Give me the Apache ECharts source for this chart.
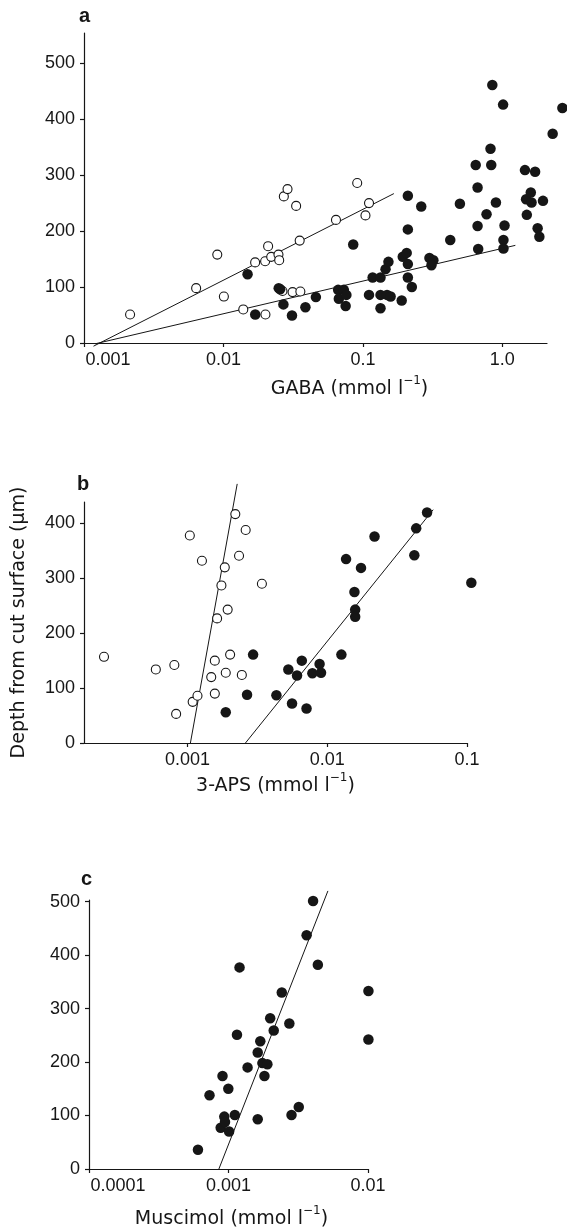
<!DOCTYPE html>
<html><head><meta charset="utf-8">
<script src="https://cdn.jsdelivr.net/npm/echarts@6/dist/echarts.min.js"></script>
<style>html,body{margin:0;padding:0;background:#fff}#chart{width:567px;height:1230px}</style>
</head><body><div id="chart"></div>
<script>
// ---- Panel a: GABA ----
const gabaOpenX = [0.00214, 0.00637, 0.00903, 0.01007, 0.01387, 0.01687, 0.0199, 0.0209, 0.0220, 0.0248, 0.0251, 0.0200, 0.0265, 0.0271, 0.0288, 0.0313, 0.0332, 0.0352, 0.0356, 0.0641, 0.0910, 0.1043, 0.1106];
const gabaOpenY = [51, 98, 158, 83, 60, 144, 146, 173, 154, 158, 148, 51, 93, 262, 275, 91, 245, 183, 92, 220, 286, 228, 250];
const gabaFilledX = [0.01489, 0.0169, 0.0249, 0.0255, 0.0269, 0.0310, 0.0387, 0.0460, 0.0664, 0.0672, 0.0730, 0.0761, 0.0752, 0.0852, 0.1106, 0.1174, 0.1337, 0.1337, 0.1337, 0.1453, 0.1489, 0.1524, 0.158, 0.1897, 0.1931, 0.206, 0.210, 0.210, 0.210, 0.210, 0.2243, 0.262, 0.300, 0.320, 0.310, 0.423, 0.496, 0.644, 0.664, 0.664, 0.671, 0.770, 0.822, 0.832, 0.847, 0.899, 1.012, 1.036, 1.018, 1.018, 1.452, 1.479, 1.497, 1.599, 1.619, 1.717, 1.790, 1.842, 1.955, 2.294, 2.694];
const gabaFilledY = [123, 51, 98, 96, 69, 49, 64, 82, 95, 79, 95, 86, 66, 176, 86, 117, 117, 86, 62, 132, 86, 145, 83, 76, 154, 161, 141, 117, 203, 263, 100, 244, 152, 148, 139, 184, 249, 318, 278, 209, 168, 230, 347, 318, 461, 251, 426, 210, 184, 169, 309, 257, 229, 269, 251, 306, 205, 190, 254, 374, 420];
const gabaOpenFitX = [0.00117, 0.1667];
const gabaOpenFitY = [-5.7, 267];
const gabaFilledFitX = [0.0012, 1.239];
const gabaFilledFitY = [-1.5, 174.5];

// ---- Panel b: 3-APS ----
const apsOpenX = [0.000253, 0.000594, 0.000806, 0.000830, 0.00104, 0.00109, 0.00118, 0.00127, 0.00148, 0.00157, 0.00157, 0.00163, 0.00175, 0.00185, 0.00188, 0.00194, 0.00202, 0.00220, 0.00234, 0.00245, 0.00261, 0.00341];
const apsOpenY = [157, 134, 142, 53, 378, 75, 86, 332, 120, 150, 90, 227, 287, 320, 128, 243, 161, 417, 341, 124, 388, 290];
const apsFilledX = [0.00188, 0.00267, 0.00295, 0.00433, 0.00527, 0.00560, 0.00608, 0.00658, 0.00711, 0.00783, 0.00882, 0.00903, 0.01263, 0.01364, 0.01566, 0.01585, 0.01585, 0.01745, 0.0218, 0.0420, 0.0433, 0.0518, 0.1074];
const apsFilledY = [56, 88, 161, 87, 134, 72, 123, 150, 63, 127, 144, 128, 161, 335, 275, 243, 230, 319, 376, 342, 391, 420, 292];
const apsOpenFitX = [0.00105, 0.00227];
const apsOpenFitY = [0, 472];
const apsFilledFitX = [0.0026, 0.0573];
const apsFilledFitY = [0, 425];

// ---- Panel c: Muscimol ----
const muscX = [0.000604, 0.000731, 0.000879, 0.000906, 0.000933, 0.000944, 0.000997, 0.00101, 0.00111, 0.00115, 0.00120, 0.00137, 0.00162, 0.00162, 0.00169, 0.00175, 0.00181, 0.00190, 0.00199, 0.00211, 0.00241, 0.00273, 0.00283, 0.00319, 0.00363, 0.00404, 0.00437, 0.01007, 0.01007];
const muscY = [36, 138, 77, 174, 98, 88, 150, 70, 101, 251, 377, 190, 93, 218, 239, 198, 174, 196, 282, 259, 330, 272, 101, 116, 437, 501, 382, 333, 242];
const muscFitX = [0.000853, 0.00516];
const muscFitY = [0, 520];

// ---- Tick labels ----
const aXTicks = [0.001, 0.01, 0.1, 1];
const aXLabels = ['0.001', '0.01', '0.1', '1.0'];
const bXTicks = [0.001, 0.01, 0.1];
const bXLabels = ['0.001', '0.01', '0.1'];
const cXTicks = [0.0001, 0.001, 0.01];
const cXLabels = ['0.0001', '0.001', '0.01'];
const aYTicks = [0, 100, 200, 300, 400, 500];
const bYTicks = [0, 100, 200, 300, 400];
const cYTicks = [0, 100, 200, 300, 400, 500];

const panelLetters = ['a', 'b', 'c'];
const xTitles = ['GABA (mmol l', '3-APS (mmol l', 'Muscimol (mmol l'];
const yTitleB = 'Depth from cut surface (μm)';

const INK = '#161616';
const TICKFONT = 'Liberation Sans';
const TITLEFONT = 'DejaVu Sans';

function pairs(xs, ys) { return xs.map((x, i) => [x, ys[i]]); }
function s0w(s) { return Math.round(s.length * 9.6); }

function xAxis(gi, min, max, ticks, labels, title, gap, padLeft, leftFirst) {
  return {
    type: 'log', logBase: 10, gridIndex: gi, min: min, max: max,
    axisLine: { show: true, lineStyle: { color: INK, width: 1.2 } },
    axisTick: { show: true, length: 4, customValues: ticks, lineStyle: { color: INK, width: 1.2 } },
    splitLine: { show: false },
    axisLabel: {
      customValues: ticks, margin: 8, color: INK, fontFamily: TICKFONT, fontSize: 18,
      formatter: function (v) {
        let idx = 0, best = 1e9;
        ticks.forEach((t, i) => { const d = Math.abs(Math.log10(v) - Math.log10(t)); if (d < best) { best = d; idx = i; } });
        const s = labels[idx];
        if (leftFirst && idx === 0) return '{f|' + s + '}';
        return s;
      },
      rich: { f: { fontFamily: TICKFONT, fontSize: 18, color: INK, padding: [0, 0, 0, s0w(labels[0])] } }
    },
    name: '{t|' + title + '}{s|−1}{t|)}',
    nameLocation: 'middle', nameGap: gap,
    nameTextStyle: {
      padding: [0, 0, 0, padLeft],
      rich: {
        t: { fontFamily: TITLEFONT, fontSize: 19, color: INK, verticalAlign: 'bottom', lineHeight: 24 },
        s: { fontFamily: TITLEFONT, fontSize: 12, color: INK, verticalAlign: 'top', lineHeight: 14 }
      }
    }
  };
}

function yAxis(gi, max, ticks, name) {
  const ax = {
    type: 'value', gridIndex: gi, min: 0, max: max,
    axisLine: { show: true, lineStyle: { color: INK, width: 1.2 } },
    axisTick: { show: true, length: 4, customValues: ticks, lineStyle: { color: INK, width: 1.2 } },
    splitLine: { show: false },
    axisLabel: { customValues: ticks, margin: 9, color: INK, fontFamily: TICKFONT, fontSize: 18 }
  };
  if (name) {
    ax.name = name; ax.nameLocation = 'middle'; ax.nameRotate = 90; ax.nameGap = 55;
    ax.nameTextStyle = { fontFamily: TITLEFONT, fontSize: 19, color: INK };
  }
  return ax;
}

function openSeries(gi, data) {
  return { type: 'scatter', xAxisIndex: gi, yAxisIndex: gi, data: data, symbol: 'circle', symbolSize: 9, clip: false,
    itemStyle: { color: '#fff', borderColor: INK, borderWidth: 1.1, opacity: 1 }, silent: true, z: 3 };
}
function filledSeries(gi, data) {
  return { type: 'scatter', xAxisIndex: gi, yAxisIndex: gi, data: data, symbol: 'circle', symbolSize: 10.5, clip: false,
    itemStyle: { color: INK, opacity: 1 }, silent: true, z: 4 };
}
function fitSeries(gi, data) {
  return { type: 'line', xAxisIndex: gi, yAxisIndex: gi, data: data, showSymbol: false, symbol: 'none', clip: false,
    lineStyle: { color: INK, width: 1 }, silent: true, z: 2, animation: false };
}

const chart = echarts.init(document.getElementById('chart'), null, { renderer: 'canvas' });
chart.setOption({
  animation: false,
  backgroundColor: '#fff',
  title: [
    { text: panelLetters[0], left: 79, top: 6, padding: 0, textStyle: { fontFamily: TICKFONT, fontSize: 20, fontWeight: 'bold', color: INK } },
    { text: panelLetters[1], left: 77, top: 474, padding: 0, textStyle: { fontFamily: TICKFONT, fontSize: 20, fontWeight: 'bold', color: INK } },
    { text: panelLetters[2], left: 81, top: 869, padding: 0, textStyle: { fontFamily: TICKFONT, fontSize: 20, fontWeight: 'bold', color: INK } }
  ],
  grid: [
    { left: 84, top: 33, width: 463, height: 310 },
    { left: 84, top: 502, width: 383, height: 241 },
    { left: 89, top: 900, width: 279, height: 277 }
  ],
  xAxis: [
    xAxis(0, 0.001, Math.pow(10, 0.32), aXTicks, aXLabels, xTitles[0], 32, 68, true),
    xAxis(1, Math.pow(10, -3.74), 0.1, bXTicks, bXLabels, xTitles[1], 29, 0, false),
    xAxis(2, 0.0001, 0.01, cXTicks, cXLabels, xTitles[2], 36, 6, true)
  ],
  yAxis: [
    yAxis(0, 554, aYTicks),
    yAxis(1, 439, bYTicks, yTitleB),
    yAxis(2, 503, cYTicks)
  ],
  series: [
    fitSeries(0, pairs(gabaOpenFitX, gabaOpenFitY)),
    fitSeries(0, pairs(gabaFilledFitX, gabaFilledFitY)),
    openSeries(0, pairs(gabaOpenX, gabaOpenY)),
    filledSeries(0, pairs(gabaFilledX, gabaFilledY)),
    fitSeries(1, pairs(apsOpenFitX, apsOpenFitY)),
    fitSeries(1, pairs(apsFilledFitX, apsFilledFitY)),
    openSeries(1, pairs(apsOpenX, apsOpenY)),
    filledSeries(1, pairs(apsFilledX, apsFilledY)),
    fitSeries(2, pairs(muscFitX, muscFitY)),
    filledSeries(2, pairs(muscX, muscY))
  ]
});
</script></body></html>
